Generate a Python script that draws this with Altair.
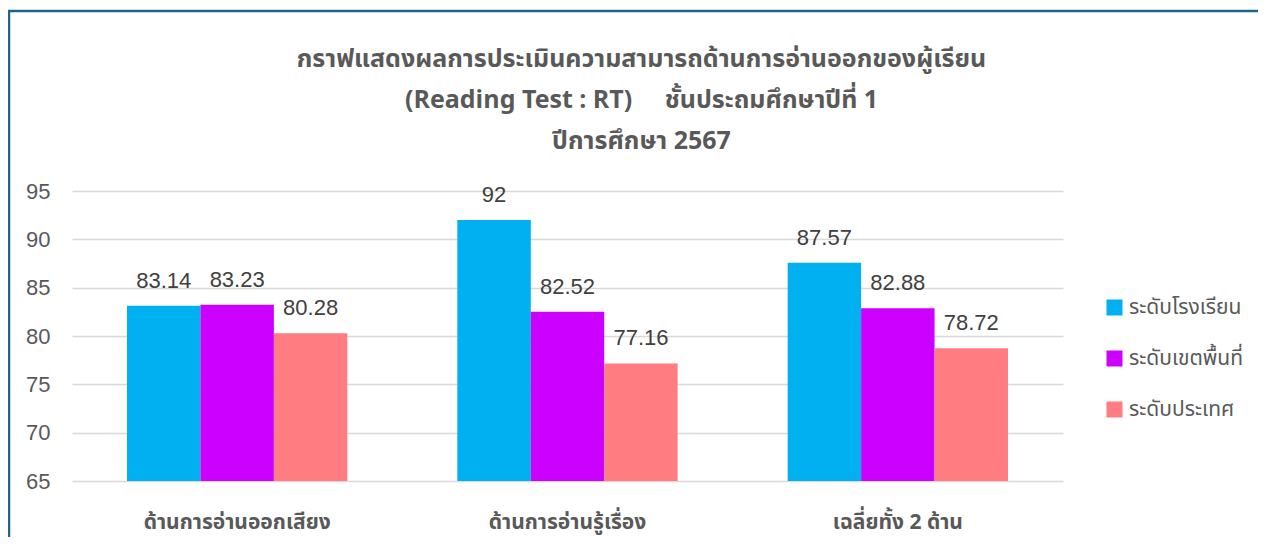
import altair as alt
import pandas as pd

categories = ["ด้านการอ่านออกเสียง", "ด้านการอ่านรู้เรื่อง", "เฉลี่ยทั้ง 2 ด้าน"]
series = ["ระดับโรงเรียน", "ระดับเขตพื้นที่", "ระดับประเทศ"]
school = [83.14, 92, 87.57]
district = [83.23, 82.52, 82.88]
nation = [80.28, 77.16, 78.72]
colors = ["#00B0F0", "#CC00FF", "#FF7C80"]
y_ticks = [65, 70, 75, 80, 85, 90, 95]
title_lines = [
    "กราฟแสดงผลการประเมินความสามารถด้านการอ่านออกของผู้เรียน",
    "(Reading Test : RT)\u00a0\u00a0\u00a0\u00a0\u00a0ชั้นประถมศึกษาปีที่ 1",
    "ปีการศึกษา 2567",
]

rows = []
for s, vals in zip(series, [school, district, nation]):
    for c, v in zip(categories, vals):
        rows.append({"category": c, "series": s, "value": v, "label": str(v)})
df = pd.DataFrame(rows)

FONT = "Noto Sans Thai, Leelawadee UI, Tahoma, Noto Sans, sans-serif"
NUMFONT = "Liberation Sans, Arial, sans-serif"

base = alt.Chart(df).encode(
    x=alt.X("category:N", sort=categories,
            scale=alt.Scale(paddingInner=0.333, paddingOuter=0.1665),
            axis=alt.Axis(title=None, labelAngle=0, domain=False, ticks=False,
                          labelFont=FONT, labelFontSize=21, labelFontWeight="bold",
                          labelColor="#595959", labelPadding=30, labelLimit=600)),
    xOffset=alt.XOffset("series:N", sort=series, scale=alt.Scale(paddingInner=0, paddingOuter=0)),
    y=alt.Y("value:Q", scale=alt.Scale(domain=[65, 95], zero=False, nice=False),
            axis=alt.Axis(title=None, values=y_ticks, domain=False, ticks=False,
                          labelFont=NUMFONT, labelFontSize=22, labelColor="#595959",
                          labelPadding=22, gridColor="#D9D9D9", gridWidth=1.5)),
)

bars = base.mark_bar(clip=True).encode(
    color=alt.Color("series:N", sort=series,
                    scale=alt.Scale(domain=series, range=colors),
                    legend=alt.Legend(title=None, orient="none", legendX=1032, legendY=106,
                                      symbolType="square", symbolSize=256, symbolStrokeWidth=0,
                                      labelFont=FONT, labelFontSize=21, labelColor="#595959",
                                      rowPadding=29, labelOffset=4, labelLimit=300)),
)

labels = base.mark_text(baseline="alphabetic", dy=-18, font=NUMFONT, fontSize=22,
                        color="#404040").encode(text="label:N")

frame_df = pd.DataFrame({"k": [0]})
frame = alt.Chart(frame_df).mark_rect(fill="transparent", stroke="#1F6391",
                                      strokeWidth=2.5, clip=False).encode(
    x=alt.value(-63), x2=alt.value(1300), y=alt.value(-180), y2=alt.value(500)
)

chart = alt.layer(frame, bars, labels).properties(
    width=991, height=290,
    autosize=alt.AutoSizeParams(type="none"),
    padding={"left": 64, "top": 183, "right": 195, "bottom": 56},
    title=alt.Title(title_lines, anchor="middle", dx=74, offset=-144, fontSize=25,
                    fontWeight="bold", color="#595959", font=FONT, lineHeight=41),
).configure_view(stroke="transparent")

chart.save("out.html", embed_options={"renderer": "svg", "actions": False})
